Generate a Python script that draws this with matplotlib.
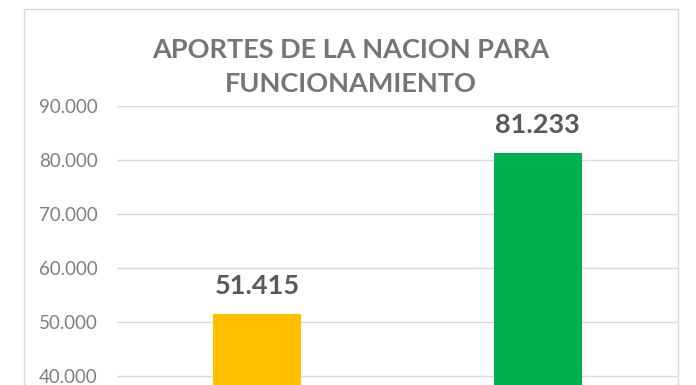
import matplotlib.pyplot as plt
from matplotlib.patches import Rectangle
from matplotlib.ticker import FuncFormatter

categories = ["A", "B"]
values = [51415, 81233]
colors = ["#FFC000", "#00B050"]
title = "APORTES DE LA NACION PARA\nFUNCIONAMIENTO"
y_ticks = [40000, 50000, 60000, 70000, 80000, 90000]

plt.rcParams["font.family"] = ["Lato", "DejaVu Sans"]

fig = plt.figure(figsize=(6.96, 3.85), dpi=100)
fig.patches.append(
    Rectangle((24 / 696, -0.1), (678 - 24) / 696, 1.1 - 9 / 385,
              transform=fig.transFigure, fill=False, edgecolor="#d9d9d9",
              linewidth=1.0)
)

ax = fig.add_axes([117 / 696, 0, (678 - 117) / 696, (385 - 106) / 385])
positions = range(len(categories))
ax.bar(positions, values, width=0.314, color=colors, zorder=3)
ax.set_xlim(-0.5, 1.5)
ax.set_ylim(38333, 90000)
ax.set_yticks(y_ticks)
ax.yaxis.set_major_formatter(
    FuncFormatter(lambda v, _: f"{v:,.0f}".replace(",", "."))
)
ax.grid(axis="y", color="#d9d9d9", linewidth=1.0, zorder=0)
ax.set_xticks([])
ax.tick_params(axis="y", length=0, pad=14, labelsize=13.5, labelcolor="#7f7f7f")
for spine in ax.spines.values():
    spine.set_visible(False)

for x, v in zip(positions, values):
    ax.annotate(f"{v:,.0f}".replace(",", "."), (x, v), xytext=(0, 12),
                textcoords="offset points", ha="center", va="bottom",
                fontsize=19.5, fontweight="bold", color="#595959")

fig.text(351 / 696, 1 - 67 / 385, title, ha="center", va="center",
         fontsize=19.5, fontweight="bold", color="#757575", linespacing=1.45)

fig.savefig("out.png", dpi=100)
